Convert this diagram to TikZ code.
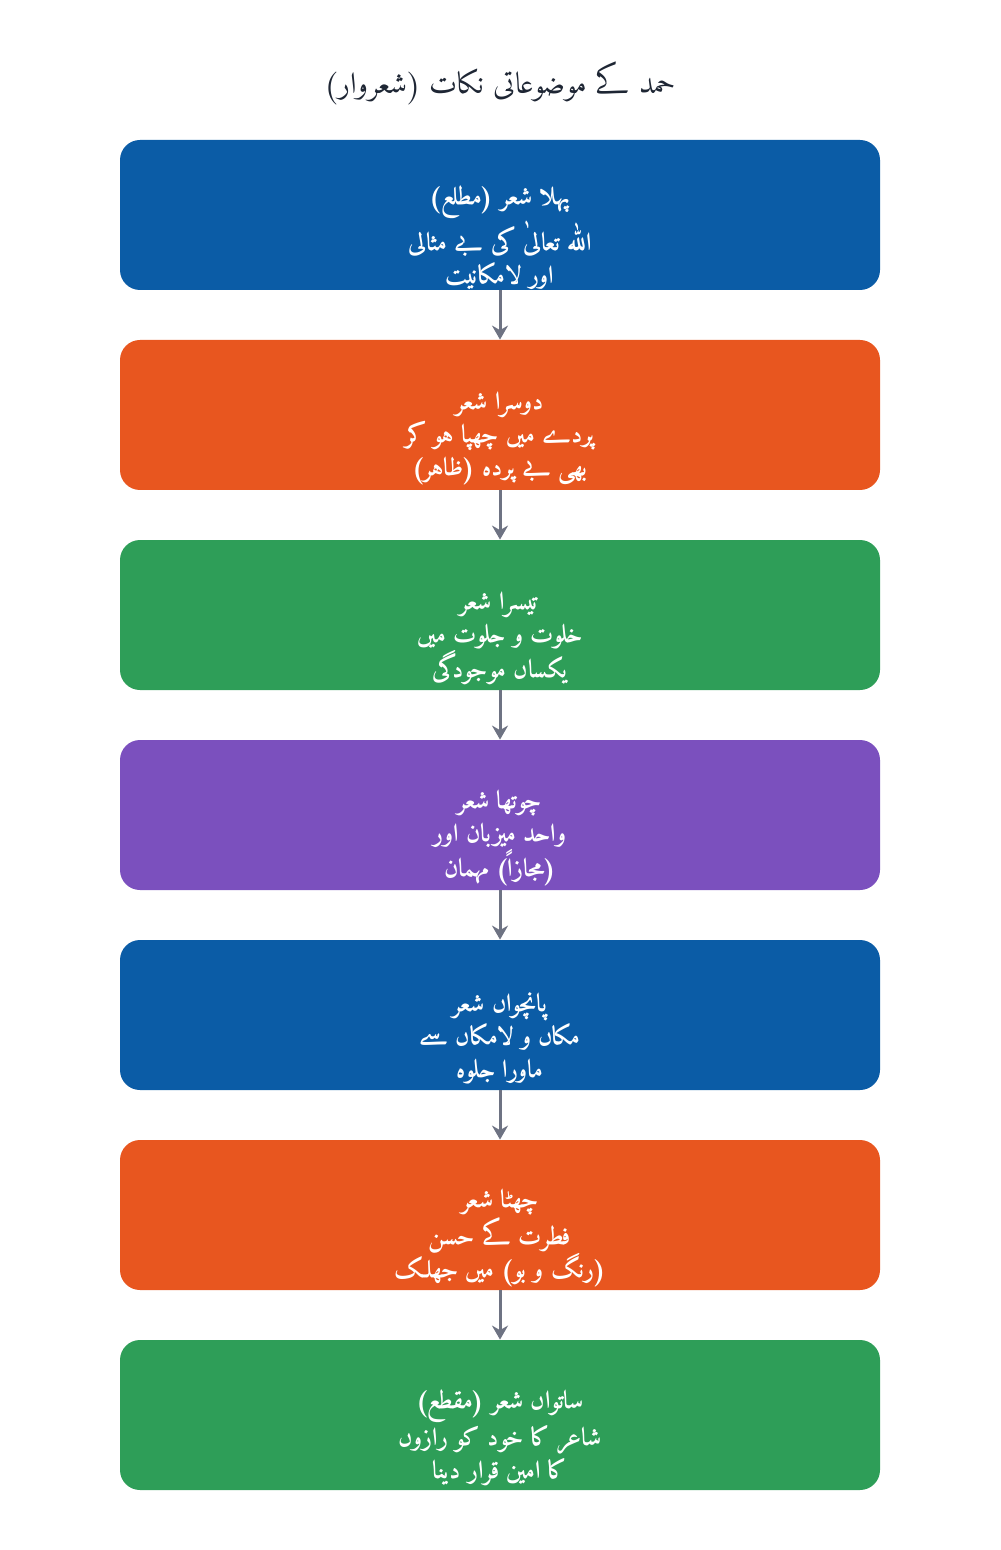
\documentclass[tikz,border=0pt]{standalone}
\usepackage{fontspec}
\usepackage{tikz}
\usetikzlibrary{positioning, arrows.meta}
\TeXXeTstate=1
\IfFontExistsTF{Amiri-Regular.ttf}{%
  \newfontfamily\urdufont[Script=Arabic]{Amiri-Regular.ttf}}{%
  \newfontfamily\urdufont[Script=Arabic]{DejaVu Sans}}
\IfFontExistsTF{Amiri-Bold.ttf}{%
  \newfontfamily\urdubold[Script=Arabic]{Amiri-Bold.ttf}}{%
  \let\urdubold\urdufont}
\definecolor{azul}{RGB}{11, 92, 166}
\definecolor{naranja}{RGB}{232, 86, 31}
\definecolor{verde}{RGB}{46, 158, 88}
\definecolor{morado}{RGB}{123, 80, 190}
\definecolor{gris}{RGB}{110, 115, 131}
\definecolor{tinta}{RGB}{30, 38, 52}
\tikzset{
    shiar/.style={rectangle, rounded corners=10pt, minimum width=380pt, minimum height=75pt, inner sep=0pt},
    shiartxt/.style={text=white, align=center, inner sep=0pt, font=\urdubold\fontsize{12.5}{16.5}\selectfont},
    conn/.style={-{Stealth[length=7pt, width=8pt]}, gris, line width=1.5pt},
}

\begin{document}
\begin{tikzpicture}[x=0.5pt, y=-0.5pt]
        \useasboundingbox (0,0) rectangle (1000,1550);

        \node [text=tinta, font=\urdufont\fontsize{15}{18}\selectfont] (txt) at (500,83) {\beginR حمد کے موضوعاتی نکات (شعروار)\endR};

        \node [shiar, fill=azul] (s1) at (500,215) {};
        \node [shiar, fill=naranja] (s2) at (500,415) {};
        \node [shiar, fill=verde] (s3) at (500,615) {};
        \node [shiar, fill=morado] (s4) at (500,815) {};
        \node [shiar, fill=azul] (s5) at (500,1015) {};
        \node [shiar, fill=naranja] (s6) at (500,1215) {};
        \node [shiar, fill=verde] (s7) at (500,1415) {};

        \node [shiartxt] (t1) at (500,238) {\beginR پہلا شعر (مطلع)\endR\\\beginR اللہ تعالیٰ کی بے مثالی\endR\\\beginR اور لامکانیت\endR};
        \node [shiartxt] (t2) at (500,438) {\beginR دوسرا شعر\endR\\\beginR پردے میں چھپا ہو کر\endR\\\beginR بھی بے پردہ (ظاہر)\endR};
        \node [shiartxt] (t3) at (500,638) {\beginR تیسرا شعر\endR\\\beginR خلوت و جلوت میں\endR\\\beginR یکساں موجودگی\endR};
        \node [shiartxt] (t4) at (500,838) {\beginR چوتھا شعر\endR\\\beginR واحد میزبان اور\endR\\\beginR (مجازاً) مہمان\endR};
        \node [shiartxt] (t5) at (500,1038) {\beginR پانچواں شعر\endR\\\beginR مکاں و لامکاں سے\endR\\\beginR ماورا جلوہ\endR};
        \node [shiartxt] (t6) at (500,1238) {\beginR چھٹا شعر\endR\\\beginR فطرت کے حسن\endR\\\beginR (رنگ و بو) میں جھلک\endR};
        \node [shiartxt] (t7) at (500,1438) {\beginR ساتواں شعر (مقطع)\endR\\\beginR شاعر کا خود کو رازوں\endR\\\beginR کا امین قرار دینا\endR};

        \draw [conn] (s1.south) -- (s2.north);
        \draw [conn] (s2.south) -- (s3.north);
        \draw [conn] (s3.south) -- (s4.north);
        \draw [conn] (s4.south) -- (s5.north);
        \draw [conn] (s5.south) -- (s6.north);
        \draw [conn] (s6.south) -- (s7.north);
    \end{tikzpicture}
\end{document}
